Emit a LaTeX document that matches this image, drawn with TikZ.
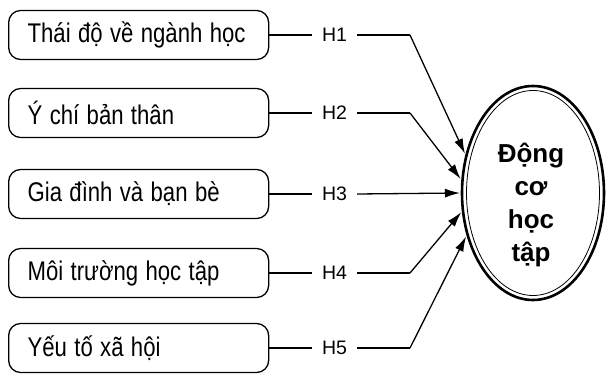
\documentclass[tikz,border=0pt]{standalone}
\usepackage{fontspec}
\usepackage{graphicx}
\setmainfont{Liberation Sans}
\newcommand{\narrowtext}[1]{\scalebox{0.82}[1]{#1}}
\usetikzlibrary{shapes.geometric,arrows.meta}
\begin{document}
\begin{tikzpicture}[x=1pt,y=-1pt,
  factor/.style={draw, line width=1.3pt, rounded corners=12pt, anchor=west,
    minimum width=260pt, minimum height=49pt, inner xsep=19pt, text width=222pt,
    align=left, font=\fontsize{27}{30}\selectfont},
  hyp/.style={inner xsep=10pt, inner ysep=2pt, font=\fontsize{19.5}{24}\selectfont},
  link/.style={line width=1.3pt},
  arr/.style={line width=1.3pt, -{Latex[length=15pt,width=9pt]}}]
\useasboundingbox (0,0) rectangle (608,374);
\node[factor] (f1) at (8,35) {\narrowtext{Thái độ về ngành học}};
\node[factor] (f2) at (8,113) {\narrowtext{Ý chí bản thân}};
\node[factor] (f3) at (8,194) {\narrowtext{Gia đình và bạn bè}};
\node[factor] (f4) at (8,273) {\narrowtext{Môi trường học tập}};
\node[factor] (f5) at (8,348) {\narrowtext{Yếu tố xã hội}};
\node[hyp] (h1) at (334.5,35) {H1};
\node[hyp] (h2) at (334.5,113) {H2};
\node[hyp] (h3) at (334.5,194) {H3};
\node[hyp] (h4) at (334.5,273) {H4};
\node[hyp] (h5) at (334.5,348) {H5};
\node[ellipse, draw, line width=2.6pt, minimum width=142pt, minimum height=214pt,
  inner sep=0pt, outer sep=2pt] (dc) at (533,193) {};
\draw[line width=0.8pt] (dc.center) ellipse (66.5pt and 102.5pt);
\node[align=center, font=\bfseries\fontsize{26}{33}\selectfont] (dct) at (531,205) {Động\\cơ\\học\\tập};
\coordinate (b1) at (410,35);
\coordinate (b2) at (410,113);
\coordinate (b4) at (410,273);
\coordinate (b5) at (410,348);
\foreach \i in {1,...,5} {\draw[link] (f\i.east) -- (h\i.west);}
\draw[link] (h1.east) -- (b1);
\draw[arr] (b1) -- (dc.150);
\draw[link] (h2.east) -- (b2);
\draw[arr] (b2) -- (dc.169);
\draw[arr] (h3.east) -- (dc.west);
\draw[link] (h4.east) -- (b4);
\draw[arr] (b4) -- (dc.195);
\draw[link] (h5.east) -- (b5);
\draw[arr] (b5) -- (dc.213);
\end{tikzpicture}
\end{document}
